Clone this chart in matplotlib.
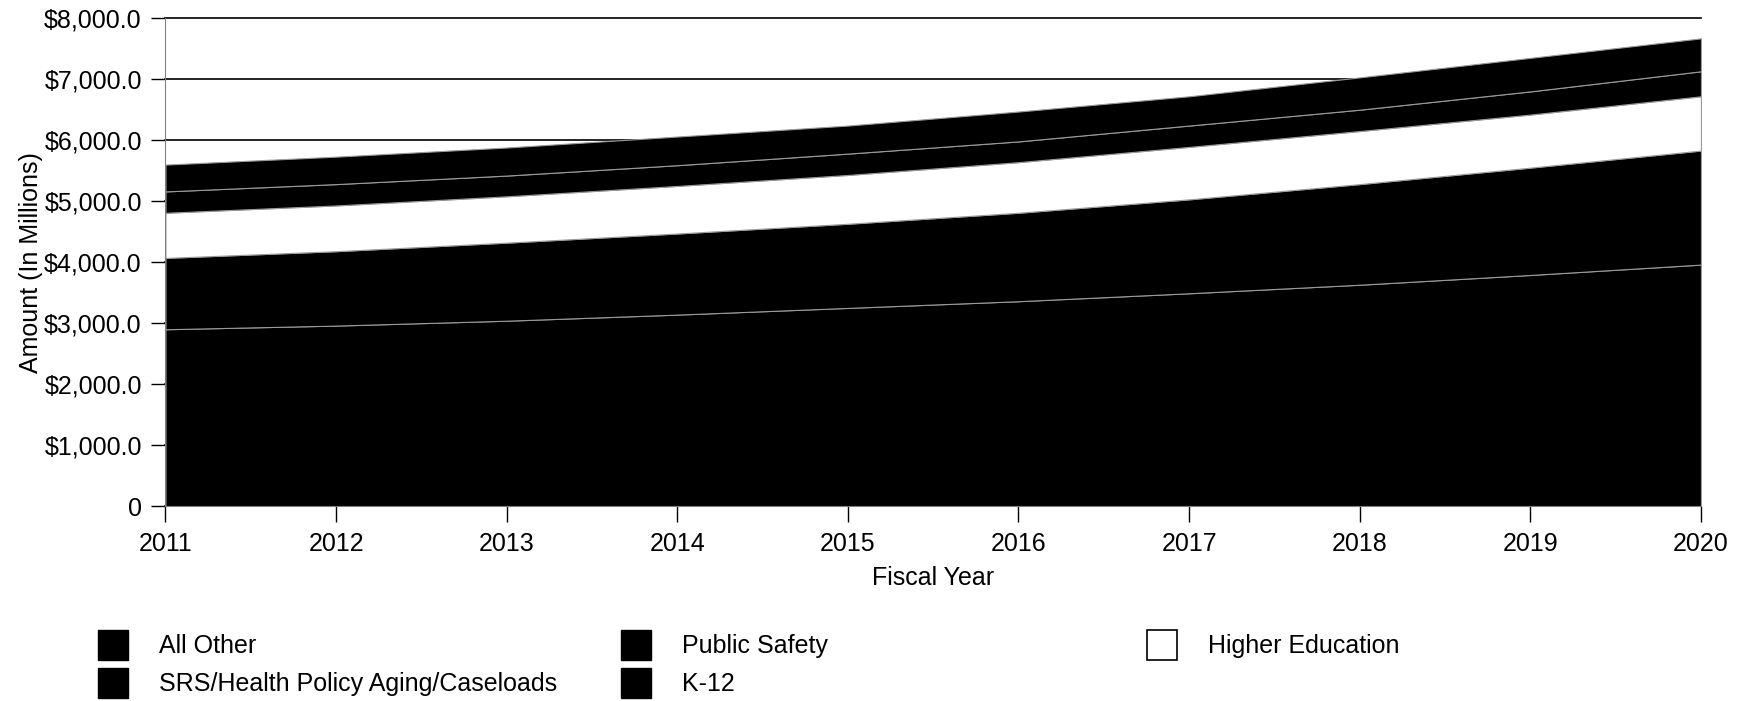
import numpy as np
import matplotlib.pyplot as plt
from matplotlib.patches import Patch
from matplotlib.ticker import FuncFormatter

plt.rcParams['font.family'] = ['Liberation Sans', 'DejaVu Sans']

years = [2011, 2012, 2013, 2014, 2015, 2016, 2017, 2018, 2019, 2020]
# amounts in millions, stacked bottom to top
k12 = [2900, 2960, 3040, 3140, 3250, 3360, 3490, 3630, 3790, 3960]
srs = [1170, 1220, 1280, 1330, 1380, 1450, 1540, 1650, 1760, 1870]
higher_ed = [740, 750, 760, 780, 800, 830, 860, 870, 870, 890]
public_safety = [350, 350, 340, 340, 350, 340, 350, 350, 380, 410]
all_other = [440, 450, 460, 470, 460, 490, 480, 530, 550, 540]

fig = plt.figure(figsize=(17.51, 7.01), dpi=100)
ax = fig.add_axes([0.0945, 0.278, 0.8769, 0.696])

ax.stackplot(years, k12, srs, higher_ed, public_safety, all_other,
             colors=['black', 'black', 'white', 'black', 'black'],
             edgecolor='#9a9a9a', linewidth=0.8)

ax.set_xlim(2011, 2020)
ax.set_ylim(0, 8000)
ax.set_xticks(years)
ax.set_yticks(range(0, 8001, 1000))
ax.yaxis.set_major_formatter(FuncFormatter(lambda v, p: '0' if v == 0 else f'${v:,.1f}'))
ax.yaxis.grid(True, color='black', lw=1.2)
for gl in ax.get_ygridlines():
    gl.set_clip_on(False)
ax.set_axisbelow(True)

for s in ['top', 'right']:
    ax.spines[s].set_visible(False)
ax.spines['left'].set_color('#808080')
ax.spines['bottom'].set_color('#808080')

ax.tick_params(axis='y', length=10, width=1, pad=7, labelsize=18)
ax.tick_params(axis='x', length=11.5, width=1, pad=7, labelsize=18)
ax.set_xlabel('Fiscal Year', fontsize=18, labelpad=7)
ax.set_ylabel('Amount (In Millions)', fontsize=18, labelpad=1)

blk = dict(facecolor='black', edgecolor='black')
cols = [
    ([Patch(**blk), Patch(**blk)], ['All Other', 'SRS/Health Policy Aging/Caseloads'], 0.056),
    ([Patch(**blk), Patch(**blk)], ['Public Safety', 'K-12'], 0.3547),
    ([Patch(facecolor='white', edgecolor='black', lw=1.2)], ['Higher Education'], 0.655),
]
for handles, labels, x in cols:
    leg = fig.legend(handles, labels, loc='upper left', bbox_to_anchor=(x, 0.1013),
                     frameon=False, fontsize=18, borderpad=0, borderaxespad=0,
                     handlelength=1.2, handleheight=1.47, handletextpad=1.24,
                     labelspacing=0.32)

fig.savefig('out.png', dpi=100)
